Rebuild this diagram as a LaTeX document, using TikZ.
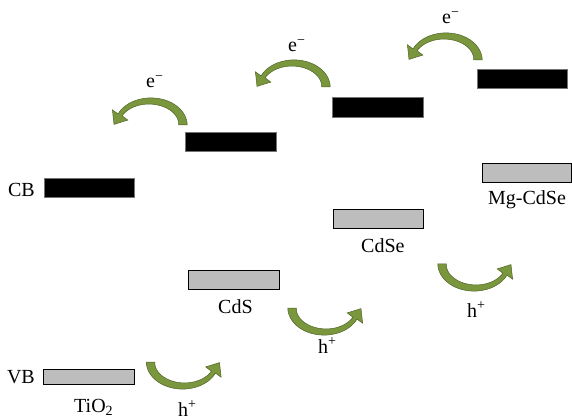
\documentclass[tikz,border=0pt]{standalone}
\usepackage{fontspec}
\setmainfont{Liberation Serif}
\definecolor{agreen}{RGB}{122,151,62}
\definecolor{adark}{RGB}{79,98,40}
\definecolor{barg}{RGB}{189,189,189}
\tikzset{
  cbbar/.style={fill=black, draw=black!55, line width=0.5pt, inner sep=0pt, minimum width=90pt, minimum height=19pt},
  vbbar/.style={fill=barg, draw=black, line width=0.9pt, inner sep=0pt, minimum width=90pt, minimum height=19pt},
  lbl/.style={inner sep=0pt, font=\fontsize{20}{24}\selectfont},
  carrow/.pic={
    \begin{scope}[yscale=-1]
      \fill[agreen, draw=adark, line width=0.5pt]
        plot[domain=0:155, samples=31, variable=\t] ({(33+(8.5-4*\t/155)/2)*cos(\t)}, {(24+(8.5-4*\t/155)/2)*sin(\t)})
        -- (-37.6,15.2) -- (-36,0.6) -- (-22.2,4.9)
        -- plot[domain=155:0, samples=31, variable=\t] ({(33-(8.5-4*\t/155)/2)*cos(\t)}, {(24-(8.5-4*\t/155)/2)*sin(\t)})
        -- cycle;
    \end{scope}
  }
}
\begin{document}
\begin{tikzpicture}[x=1pt, y=-1pt]
\useasboundingbox (0,0) rectangle (572,419);
% conduction bands
\node[cbbar] (cb1) at (89,187.5) {};
\node[cbbar, minimum width=91pt] (cb2) at (231,141.5) {};
\node[cbbar, minimum width=91pt, minimum height=20pt] (cb3) at (378,107) {};
\node[cbbar] (cb4) at (522,78.5) {};
% valence bands
\node[vbbar, minimum width=91pt, minimum height=15pt] (vb1) at (88.5,377) {};
\node[vbbar, minimum width=91pt] (vb2) at (234,279.5) {};
\node[vbbar, minimum width=90pt] (vb3) at (378.5,218.5) {};
\node[vbbar, minimum width=89pt] (vb4) at (527,172.5) {};
% labels
\node[lbl, anchor=base east] (tcb) at (35,197) {CB};
\node[lbl, anchor=base east] (tvb) at (35,383) {VB};
\node[lbl, anchor=base west] (ttio) at (74,412) {TiO\textsubscript{2}};
\node[lbl, anchor=base west] (tcds) at (218,313) {CdS};
\node[lbl, anchor=base west] (tcdse) at (361,253) {CdSe};
\node[lbl, anchor=base west] (tmg) at (488,205) {Mg-CdSe};
\node[lbl, anchor=base west] (e1) at (146,88) {e\textsuperscript{−}};
\node[lbl, anchor=base west] (e2) at (288,52) {e\textsuperscript{−}};
\node[lbl, anchor=base west] (e3) at (442,24) {e\textsuperscript{−}};
\node[lbl, anchor=base west] (h1) at (178,416) {h\textsuperscript{+}};
\node[lbl, anchor=base west] (h2) at (318,353) {h\textsuperscript{+}};
\node[lbl, anchor=base west] (h3) at (467,317) {h\textsuperscript{+}};
% electron transfer arrows
\pic at (150,125) {carrow};
\pic at (293,87) {carrow};
\pic at (445,60) {carrow};
% hole transfer arrows
\pic[rotate=180] at (183.5,362) {carrow};
\pic[rotate=180] at (325,308) {carrow};
\pic[rotate=180] at (475,264) {carrow};
\end{tikzpicture}
\end{document}
